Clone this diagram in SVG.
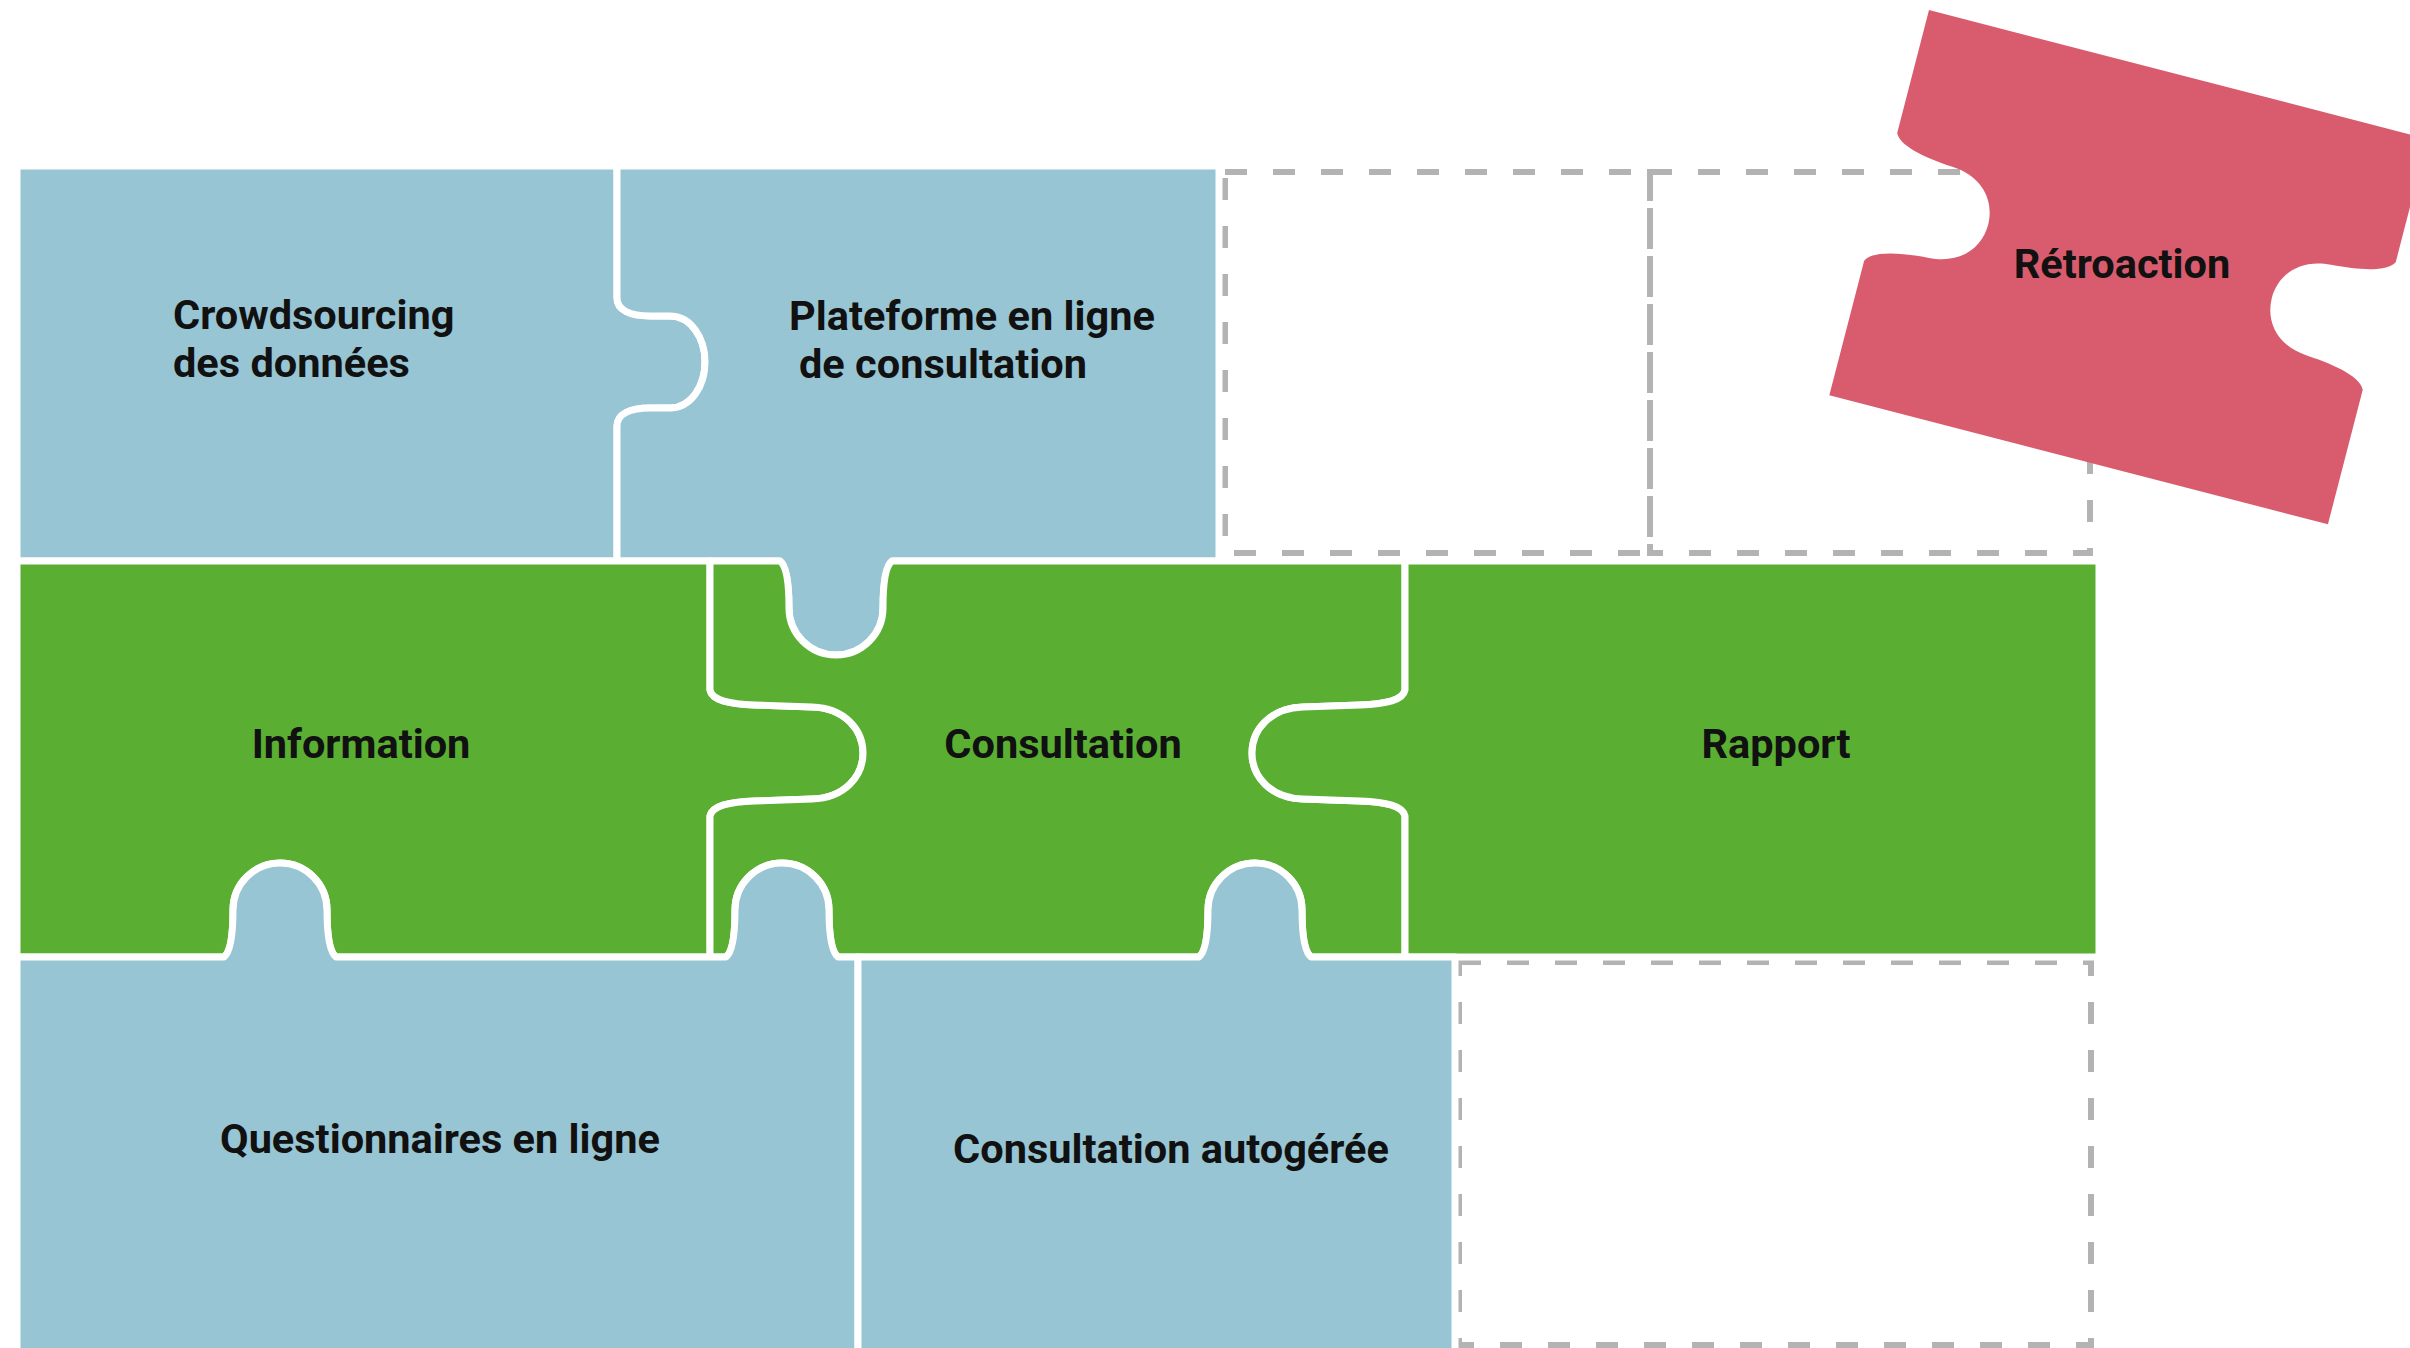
<svg xmlns="http://www.w3.org/2000/svg" width="2410" height="1348" viewBox="0 0 2410 1348">
<style>
.blue{fill:#97c5d4;stroke:#ffffff;stroke-width:7;stroke-linejoin:round}
.green{fill:#5aaf33;stroke:#ffffff;stroke-width:7;stroke-linejoin:round}
.red{fill:#d95c6e}
.slot{fill:none;stroke:#b3b3b3;stroke-width:6;stroke-dasharray:22 26}
.lbl{font-family:Roboto,"Liberation Sans",sans-serif;font-weight:700;font-size:41.5px;fill:#111111}
.mid{text-anchor:middle}
</style>
<rect width="2410" height="1348" fill="#ffffff"/>
<g id="connectors"></g>
<g id="empty-slots">
<rect class="slot" x="1225" y="172" width="425" height="381"/>
<rect class="slot" x="1650" y="172" width="440" height="381"/>
<rect class="slot" x="1459" y="962" width="632" height="383"/>
</g>
<g id="crowdsourcing">
<path class="blue" d="M17,166 L617,166 L617,298 C617,310 630,316 650,316 L670,316 C691,316 705,338 705,362 C705,386 691,408 670,408 L650,408 C630,408 617,414 617,426 L617,561 L17,561 Z"/>
<text class="lbl" x="173" y="329">Crowdsourcing</text>
<text class="lbl" x="173" y="377">des données</text>
</g>
<g id="plateforme">
<path class="blue" d="M617,166 L1219,166 L1219,561 L892,561 Q883,568 883,608 A47,47 0 0 1 789,608 Q789,568 780,561 L617,561 L617,426 C617,414 630,408 650,408 L670,408 C691,408 705,386 705,362 C705,338 691,316 670,316 L650,316 C630,316 617,310 617,298 Z"/>
<text class="lbl" x="789" y="330">Plateforme en ligne</text>
<text class="lbl" x="799" y="378">de consultation</text>
</g>
<g id="information">
<path class="green" d="M17,561 L710,561 L710,690 C712,700 728,704 755,705 L812,707 C845,708 863,730 863,753 C863,776 845,798 812,799 L755,801 C728,802 712,806 710,816 L710,957 L336,957 Q327,950 327,910 A47,47 0 0 0 233,910 Q233,950 224,957 L17,957 Z"/>
<text class="lbl mid" x="361" y="758">Information</text>
</g>
<g id="consultation">
<path class="green" d="M710,561 L780,561 Q789,568 789,608 A47,47 0 0 0 883,608 Q883,568 892,561 L1405,561 L1405,690 C1403,700 1387,704 1360,705 L1303,707 C1270,708 1252,730 1252,753 C1252,776 1270,798 1303,799 L1360,801 C1387,802 1403,806 1405,816 L1405,957 L1311,957 Q1302,950 1302,910 A47,47 0 0 0 1208,910 Q1208,950 1199,957 L838,957 Q829,950 829,910 A47,47 0 0 0 735,910 Q735,950 726,957 L710,957 L710,816 C712,806 728,802 755,801 L812,799 C845,798 863,776 863,753 C863,730 845,708 812,707 L755,705 C728,704 712,700 710,690 Z"/>
<text class="lbl mid" x="1063" y="758">Consultation</text>
</g>
<g id="rapport">
<path class="green" d="M1405,561 L2099,561 L2099,957 L1405,957 L1405,816 C1403,806 1387,802 1360,801 L1303,799 C1270,798 1252,776 1252,753 C1252,730 1270,708 1303,707 L1360,705 C1387,704 1403,700 1405,690 Z"/>
<text class="lbl mid" x="1776" y="758">Rapport</text>
</g>
<g id="questionnaires">
<path class="blue" d="M17,957 L224,957 Q233,950 233,910 A47,47 0 0 1 327,910 Q327,950 336,957 L726,957 Q735,950 735,910 A47,47 0 0 1 829,910 Q829,950 838,957 L858,957 L858,1356 L17,1356 Z"/>
<text class="lbl mid" x="440" y="1153">Questionnaires en ligne</text>
</g>
<g id="autogeree">
<path class="blue" d="M858,957 L1199,957 Q1208,950 1208,910 A47,47 0 0 1 1302,910 Q1302,950 1311,957 L1455,957 L1455,1356 L858,1356 Z"/>
<text class="lbl mid" x="1171" y="1163">Consultation autogérée</text>
</g>
<g id="retroaction">
<path class="red" transform="translate(1929,10) rotate(14.5)" d="M0,0 L515,0 L515,127 C510,138 485,144 453,146 C420,148 404,170 404,193 C404,216 420,238 453,240 C485,242 510,248 515,259 L515,398 L0,398 L0,259 C5,248 30,242 62,240 C95,238 111,216 111,193 C111,170 95,148 62,146 C30,144 5,138 0,127 Z"/>
<text class="lbl mid" x="2122" y="278">Rétroaction</text>
</g>
</svg>
